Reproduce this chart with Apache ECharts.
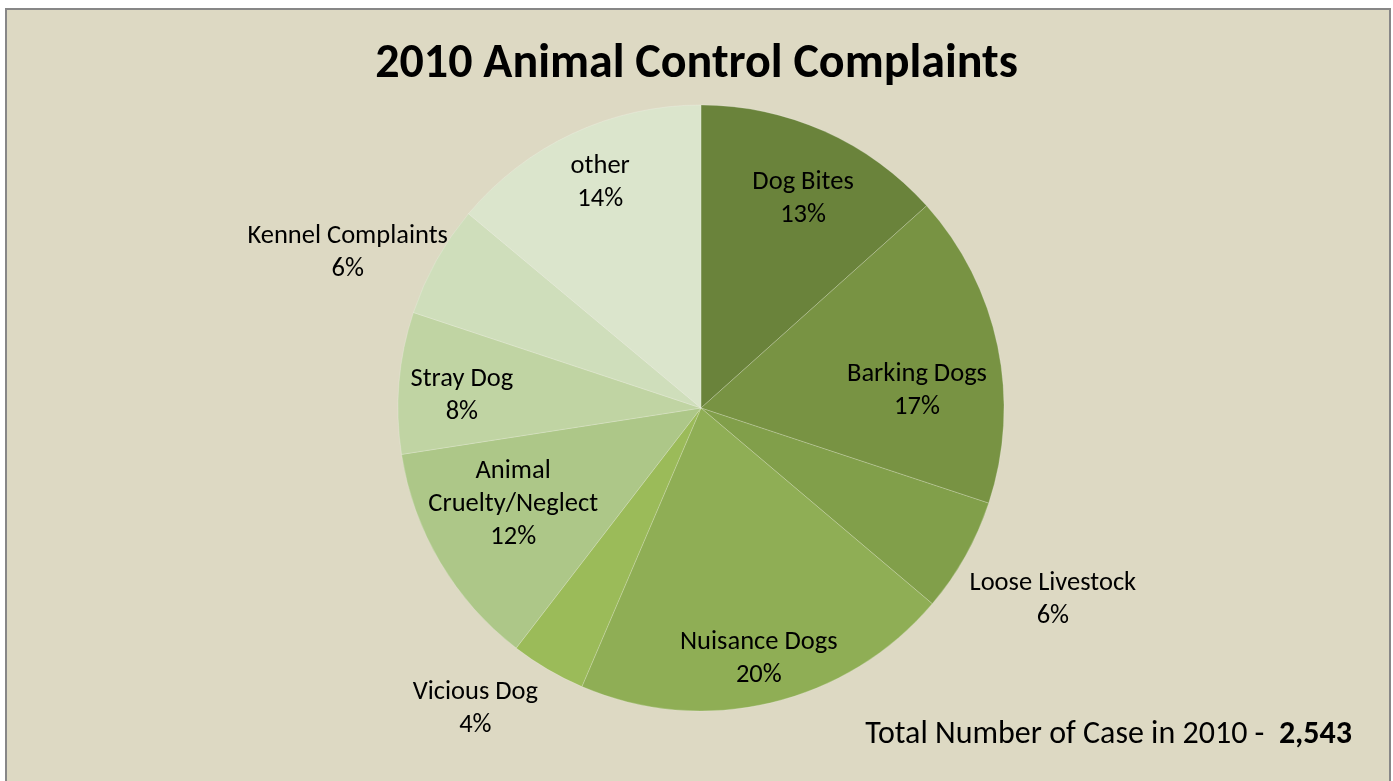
<!DOCTYPE html>
<html>
<head>
<meta charset="utf-8">
<script src="https://cdn.jsdelivr.net/npm/echarts@6/dist/echarts.min.js"></script>
<style>
html,body{margin:0;padding:0;background:#ffffff;}
#chart{width:1393px;height:781px;}
</style>
</head>
<body>
<div id="chart"></div>
<script>
// ---- data ----
const titleText = '2010 Animal Control Complaints';
const categories = ['Dog Bites', 'Barking Dogs', 'Loose Livestock', 'Nuisance Dogs', 'Vicious Dog',
  'Animal Cruelty/Neglect', 'Stray Dog', 'Kennel Complaints', 'other'];
const values = [340, 425, 155, 515, 102, 308, 192, 152, 354];
const totalLabel = 'Total Number of Case in 2010 -  ';
const totalValue = '2,543';
const outsideLabelCats = ['Loose Livestock', 'Vicious Dog', 'Kennel Complaints'];

// ---- style ----
const colors = ['#6a833b', '#789343', '#819f4a', '#8fae55', '#9bbb59', '#adc788', '#c0d4a3', '#cfdebb', '#dbe5cc'];
// small label nudges (Excel "best fit" placement), in px [dx, dy]
const labelNudge = {
  'Dog Bites': [5, 8], 'Barking Dogs': [-17, 31], 'Loose Livestock': [9, 0],
  'Nuisance Dogs': [3, 19], 'Vicious Dog': [-27, -38], 'Animal Cruelty/Neglect': [17, -25],
  'Stray Dog': [-2, 8], 'Kennel Complaints': [-10, 36], 'other': [0, -10]
};
const FONT = 'Carlito, Lato, "Open Sans", sans-serif';
const CX = 701, CY = 408, R = 303;

const chart = echarts.init(document.getElementById('chart'), null, {renderer: 'canvas'});

function wrapName(n) {
  return n === 'Animal Cruelty/Neglect' ? 'Animal\nCruelty/Neglect' : n;
}

const baseData = categories.map((c, i) => ({name: c, value: values[i], itemStyle: {color: colors[i]}}));

function labelData(showOutside) {
  return categories.map((c, i) => {
    const isOut = outsideLabelCats.indexOf(c) >= 0;
    return {
      name: c, value: values[i],
      label: {show: isOut === showOutside}
    };
  });
}

const labelCommon = {
  position: 'inside',
  rotate: 0,
  color: '#000000',
  fontFamily: FONT,
  fontSize: 26.5,
  lineHeight: 33,
  align: 'center',
  formatter: p => wrapName(p.name) + '\n' + p.percent + '%'
};

const transparentSeries = (r, showOutside) => ({
  type: 'pie',
  center: [CX, CY],
  radius: [0, r],
  startAngle: 90,
  clockwise: true,
  silent: true,
  animation: false,
  percentPrecision: 0,
  avoidLabelOverlap: false,
  itemStyle: {color: 'rgba(0,0,0,0)', borderWidth: 0},
  emphasis: {disabled: true},
  labelLine: {show: false},
  label: labelCommon,
  labelLayout: function (params) {
    const s = labelNudge[categories[params.dataIndex]] || [0, 0];
    return {dx: s[0], dy: s[1]};
  },
  minShowLabelAngle: 0,
  z: 5,
  data: labelData(showOutside)
});

chart.setOption({
  backgroundColor: '#ffffff',
  animation: false,
  graphic: [
    {type: 'rect', z: -10, shape: {x: 6, y: 9, width: 1384, height: 790},
      style: {fill: '#ddd9c3', stroke: '#878787', lineWidth: 2}},
    {type: 'text', z: 10, left: 'center', top: 41,
      style: {text: titleText, font: 'bold 48px ' + FONT, fill: '#000000'}},
    {type: 'text', z: 10, right: 41, top: 719,
      style: {
        text: '{a|' + totalLabel + '}{b|' + totalValue + '}',
        rich: {
          a: {fontFamily: FONT, fontSize: 32, color: '#000000'},
          b: {fontFamily: FONT, fontSize: 32, fontWeight: 'bold', color: '#000000'}
        }
      }}
  ],
  series: [
    {
      type: 'pie',
      center: [CX, CY],
      radius: [0, R],
      startAngle: 90,
      clockwise: true,
      silent: true,
      animation: false,
      label: {show: false},
      labelLine: {show: false},
      itemStyle: {borderWidth: 0.8, borderColor: 'rgba(255,255,255,0.25)'},
      emphasis: {disabled: true},
      z: 2,
      data: baseData
    },
    transparentSeries(470, false),
    transparentSeries(780, true)
  ]
});
</script>
</body>
</html>
